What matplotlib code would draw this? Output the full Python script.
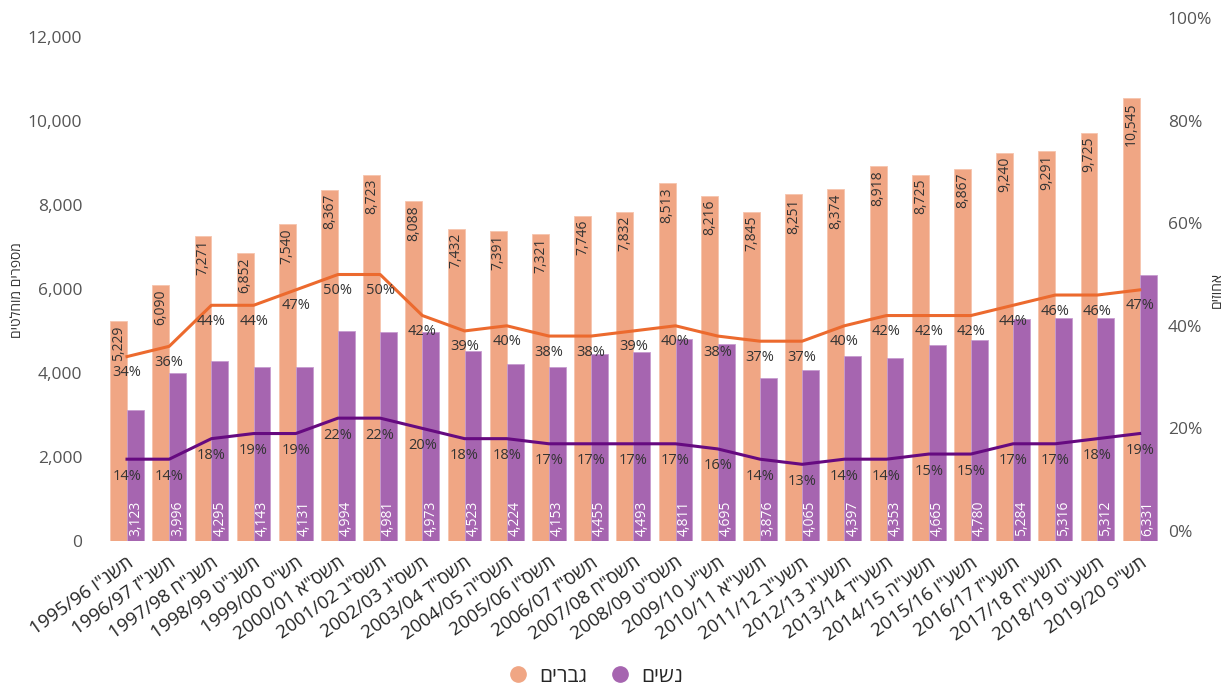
import matplotlib
matplotlib.use("Agg")
import matplotlib.pyplot as plt
from matplotlib.ticker import FuncFormatter, FixedLocator
from matplotlib.lines import Line2D

plt.rcParams['font.family'] = ['Open Sans', 'DejaVu Sans']

# ---------------- data ----------------
years = ["1995/96", "1996/97", "1997/98", "1998/99", "1999/00", "2000/01", "2001/02",
         "2002/03", "2003/04", "2004/05", "2005/06", "2006/07", "2007/08", "2008/09",
         "2009/10", "2010/11", "2011/12", "2012/13", "2013/14", "2014/15", "2015/16",
         "2016/17", "2017/18", "2018/19", "2019/20"]
heb_years = ['תשנ"ו', 'תשנ"ז', 'תשנ"ח', 'תשנ"ט', 'תש"ס', 'תשס"א', 'תשס"ב', 'תשס"ג',
             'תשס"ד', 'תשס"ה', 'תשס"ו', 'תשס"ז', 'תשס"ח', 'תשס"ט', 'תש"ע', 'תשע"א',
             'תשע"ב', 'תשע"ג', 'תשע"ד', 'תשע"ה', 'תשע"ו', 'תשע"ז', 'תשע"ח', 'תשע"ט', 'תש"פ']
men = [5229, 6090, 7271, 6852, 7540, 8367, 8723, 8088, 7432, 7391, 7321, 7746, 7832,
       8513, 8216, 7845, 8251, 8374, 8918, 8725, 8867, 9240, 9291, 9725, 10545]
women = [3123, 3996, 4295, 4143, 4131, 4994, 4981, 4973, 4523, 4224, 4153, 4455, 4493,
         4811, 4695, 3876, 4065, 4397, 4353, 4665, 4780, 5284, 5316, 5312, 6331]
men_pct = [34, 36, 44, 44, 47, 50, 50, 42, 39, 40, 38, 38, 39, 40, 38, 37, 37, 40, 42,
           42, 42, 44, 46, 46, 47]
women_pct = [14, 14, 18, 19, 19, 22, 22, 20, 18, 18, 17, 17, 17, 17, 16, 14, 13, 14, 14,
             15, 15, 17, 17, 18, 19]
label_men = "גברים"
label_women = "נשים"
ylabel_left = "מספרים מוחלטים"
ylabel_right = "אחוזים"


def vis(s):
    """Visual (display) order for a purely Hebrew string."""
    return s[::-1]


MEN_BAR = "#F0A684"
WOMEN_BAR = "#A665B0"
MEN_LINE = "#EC6A2E"
WOMEN_LINE = "#660A80"
TXT = "#333333"
TICK = "#555555"

W, H = 1229, 689
fig = plt.figure(figsize=(W / 100, H / 100), dpi=100)
left_px, right_px, top_px, bottom_px = 101.7, 1165.0, 18.0, 541.0
ax = fig.add_axes([left_px / W, 1 - bottom_px / H, (right_px - left_px) / W,
                   (bottom_px - top_px) / H])

n = len(years)
x = list(range(n))
bw = 0.4
xm = [i - bw / 2 for i in x]
xw = [i + bw / 2 for i in x]

ax.bar(xm, men, width=bw, color=MEN_BAR, edgecolor="#F6C4AD", linewidth=0.6, zorder=2)
ax.bar(xw, women, width=bw, color=WOMEN_BAR, edgecolor="#C79CCF", linewidth=0.6, zorder=2)

# left axis: 0 at 541 px, 12000 at 37 px
px_per_unit = (541 - 37) / 12000
ax.set_ylim(0, (bottom_px - top_px) / px_per_unit)
ax.set_xlim(-0.6, 24.6)
ax.yaxis.set_major_locator(FixedLocator([0, 2000, 4000, 6000, 8000, 10000, 12000]))
ax.yaxis.set_major_formatter(FuncFormatter(lambda v, p: f"{int(v):,}"))
ax.set_xticks(x)
ax.set_xticklabels([f"{y} {vis(h)}" for y, h in zip(years, heb_years)],
                   rotation=35, ha="right", rotation_mode="anchor", fontsize=13.5,
                   color="#252525")
ax.tick_params(axis="x", length=0, pad=9)
ax.tick_params(axis="y", length=0, pad=14, labelsize=12.5, labelcolor=TICK)
for s in ax.spines.values():
    s.set_visible(False)

# value labels on bars
for xi, v in zip(xm, men):
    ax.annotate(f"{v:,}", (xi, v), xytext=(0, -4), textcoords="offset pixels",
                rotation=90, ha="center", va="top", fontsize=10, color=TXT, zorder=5)
for xi, v in zip(xw, women):
    ax.annotate(f"{v:,}", (xi, 0), xytext=(0, 5), textcoords="offset pixels",
                rotation=90, ha="center", va="bottom", fontsize=10, color="white", zorder=5)

# right axis for percentages: 0% at 531 px, 100% at 18 px
ax2 = ax.twinx()
ppp = (531 - 18) / 100.0
ax2.set_ylim(-(bottom_px - 531) / ppp, 100)
ax2.set_position(ax.get_position())
ax2.plot(x, men_pct, color=MEN_LINE, linewidth=2.2, zorder=3)
ax2.plot(x, women_pct, color=WOMEN_LINE, linewidth=2.2, zorder=3)
for xi, v in zip(x, men_pct):
    ax2.annotate(f"{v}%", (xi, v), xytext=(0, -16), textcoords="offset pixels",
                 ha="center", va="center", fontsize=10.5, color=TXT, zorder=6)
for xi, v in zip(x, women_pct):
    ax2.annotate(f"{v}%", (xi, v), xytext=(0, -17), textcoords="offset pixels",
                 ha="center", va="center", fontsize=10.5, color=TXT, zorder=6)
ax2.yaxis.set_major_locator(FixedLocator([0, 20, 40, 60, 80, 100]))
ax2.yaxis.set_major_formatter(FuncFormatter(lambda v, p: f"{int(v)}%"))
ax2.tick_params(axis="y", length=0, pad=2, labelsize=12.5, labelcolor=TICK)
for s in ax2.spines.values():
    s.set_visible(False)

# axis titles
fig.text(18 / W, 1 - 290 / H, vis(ylabel_left), rotation=90, ha="center", va="center",
         fontsize=10, color=TXT)
fig.text(1217 / W, 1 - 290 / H, vis(ylabel_right), rotation=90, ha="center", va="center",
         fontsize=10, color=TXT)

# legend
handles = [Line2D([], [], marker="o", linestyle="", markersize=11, color=MEN_BAR),
           Line2D([], [], marker="o", linestyle="", markersize=11, color=WOMEN_BAR)]
fig.legend(handles, [vis(label_men), vis(label_women)], loc="center",
           bbox_to_anchor=(590 / W, 1 - 676 / H), ncol=2, frameon=False, fontsize=15,
           handletextpad=0.0, columnspacing=0.6, labelcolor="#252525",
           borderpad=0.1)

fig.savefig("out.png", dpi=100)
